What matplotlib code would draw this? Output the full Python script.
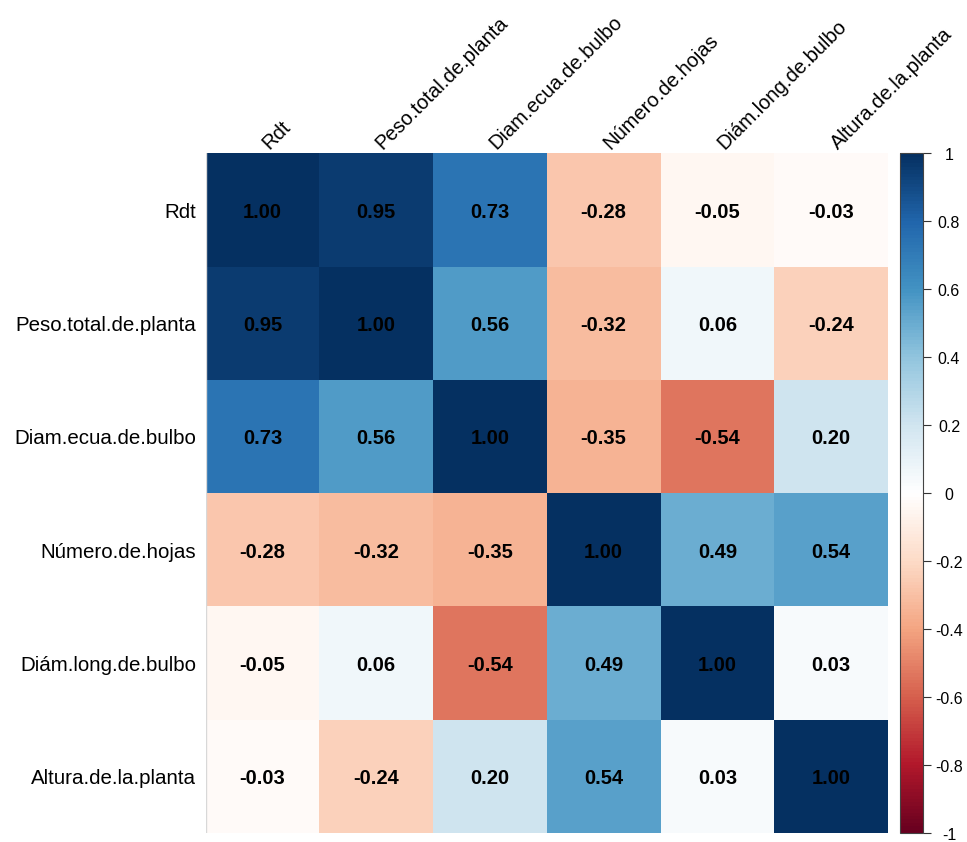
import numpy as np
import matplotlib
matplotlib.use("Agg")
import matplotlib.pyplot as plt
import matplotlib.transforms as mtransforms
from matplotlib.colors import LinearSegmentedColormap, Normalize

labels = ["Rdt", "Peso.total.de.planta", "Diam.ecua.de.bulbo",
          "Número.de.hojas", "Diám.long.de.bulbo", "Altura.de.la.planta"]
row_rdt = [1.00, 0.95, 0.73, -0.28, -0.05, -0.03]
row_peso = [0.95, 1.00, 0.56, -0.32, 0.06, -0.24]
row_diam = [0.73, 0.56, 1.00, -0.35, -0.54, 0.20]
row_num = [-0.28, -0.32, -0.35, 1.00, 0.49, 0.54]
row_long = [-0.05, 0.06, -0.54, 0.49, 1.00, 0.03]
row_alt = [-0.03, -0.24, 0.20, 0.54, 0.03, 1.00]
cbar_ticks = [-1, -0.8, -0.6, -0.4, -0.2, 0, 0.2, 0.4, 0.6, 0.8, 1]
cbar_ticklabels = ["-1", "-0.8", "-0.6", "-0.4", "-0.2", "0", "0.2", "0.4", "0.6", "0.8", "1"]

M = np.array([row_rdt, row_peso, row_diam, row_num, row_long, row_alt])
n = len(labels)

brewer = ["#67001F", "#B2182B", "#D6604D", "#F4A582", "#FDDBC7", "#FFFFFF",
          "#D1E5F0", "#92C5DE", "#4393C3", "#2166AC", "#053061"]
cmap = LinearSegmentedColormap.from_list("rdbu", brewer, N=200)
norm = Normalize(-1, 1)

plt.rcParams['font.family'] = ['Liberation Sans', 'DejaVu Sans']

W, H = 967, 842
fig = plt.figure(figsize=(W/100, H/100), dpi=100)
x0, x1, y0, y1 = 205.5, 888, 153.3, 833
ax = fig.add_axes([x0/W, 1-y1/H, (x1-x0)/W, (y1-y0)/H])
ax.pcolormesh(np.arange(n+1), np.arange(n+1), M, cmap=cmap, norm=norm)
ax.set_xlim(0, n)
ax.set_ylim(n, 0)
ax.set_xticks([])
ax.set_yticks([])
for s in ax.spines.values():
    s.set_visible(False)
ax.axvline(0, color="#d8d8d8", lw=1)

for i in range(n):
    for j in range(n):
        ax.text(j+0.5, i+0.52, f"{M[i, j]:.2f}", ha='center', va='center',
                fontsize=14.5, fontweight='bold', color='black')
    ax.text(-0.08, i+0.52, labels[i], ha='right', va='center', fontsize=14.8,
            color='black', clip_on=False)
    ax.text(i+0.5+0.06, -0.03, labels[i], ha='left', va='baseline', rotation=45,
            rotation_mode='anchor', fontsize=14.5, color='black', clip_on=False)

cax = fig.add_axes([900/W, 1-y1/H, 22.7/W, (y1-y0)/H])
cb = matplotlib.colorbar.ColorbarBase(cax, cmap=cmap, norm=norm, orientation='vertical')
cb.set_ticks(cbar_ticks)
cax.set_yticklabels([])
cax.tick_params(length=6, width=0.8, color='#333333')
cb.outline.set_edgecolor('#444444')
cb.outline.set_linewidth(0.8)
trans = mtransforms.blended_transform_factory(fig.transFigure, cax.transData)
for t, lab in zip(cbar_ticks, cbar_ticklabels):
    cax.text(949/W, t - 0.007, lab, transform=trans, ha='center', va='center',
             fontsize=11.5, color='black', clip_on=False)

fig.savefig("out.png", dpi=100)
